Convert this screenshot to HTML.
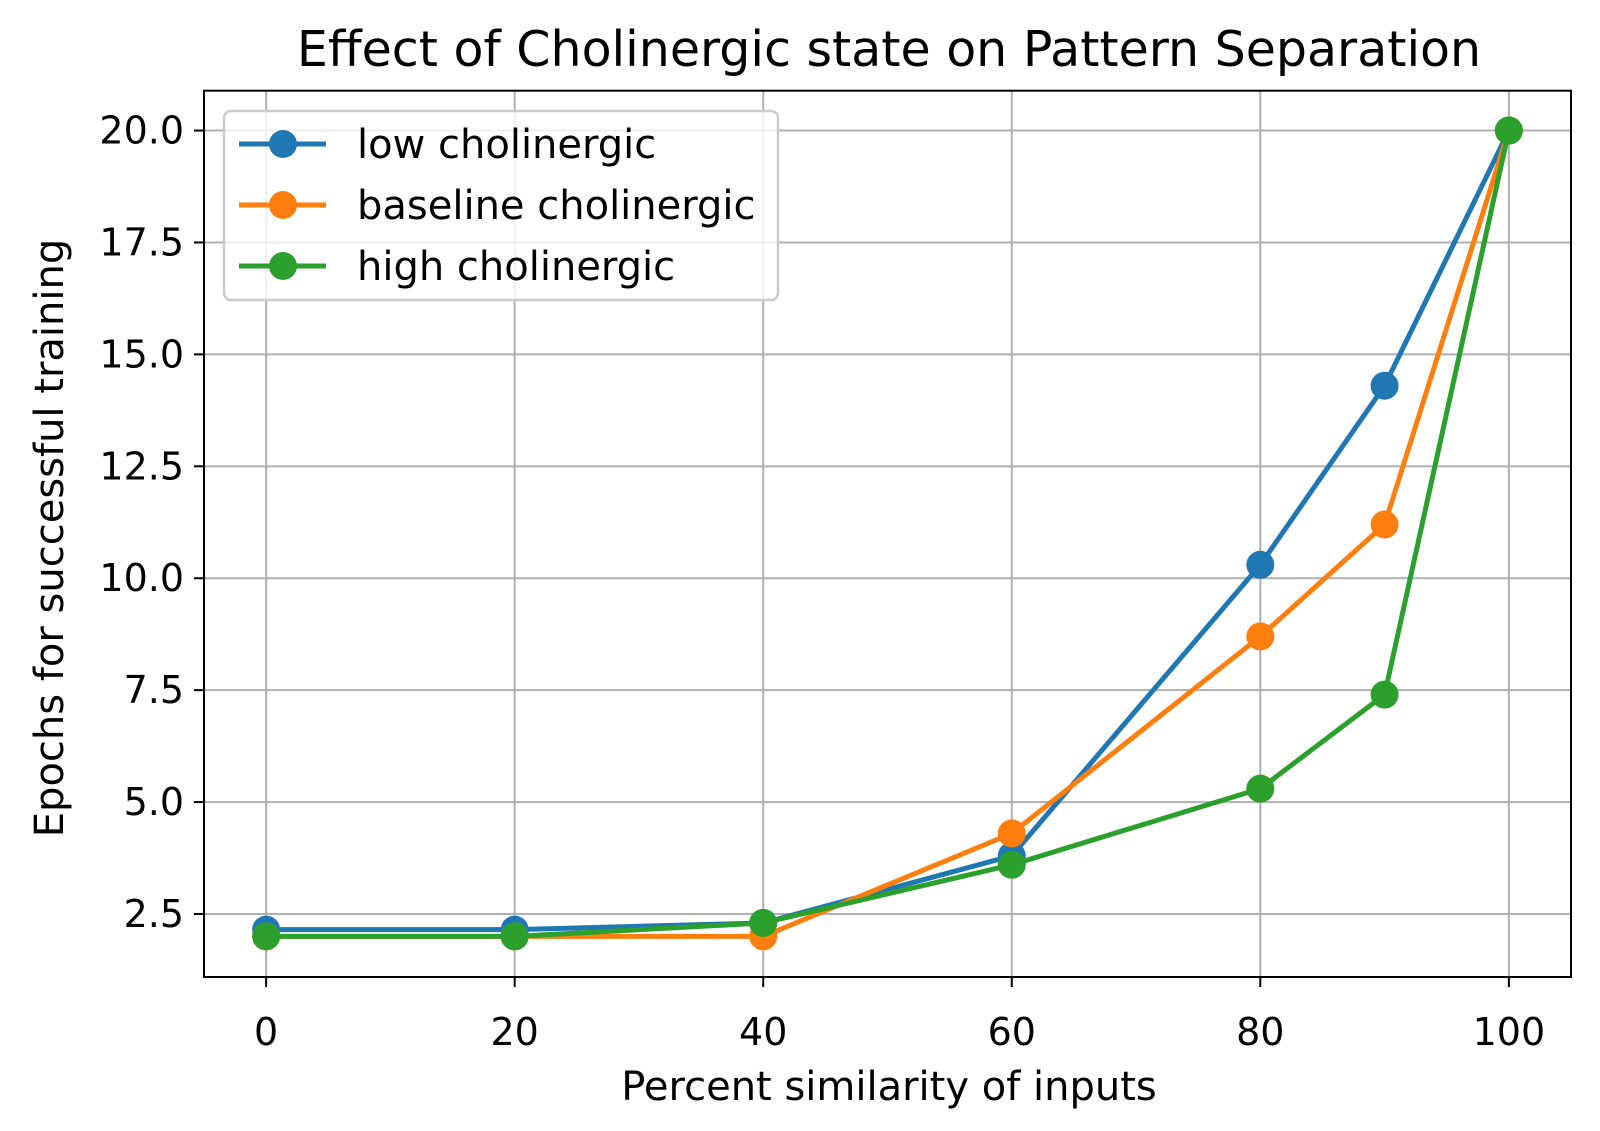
<!DOCTYPE html>
<html><head><meta charset="utf-8"><style>
body{margin:0;background:#fff;}
svg{display:block;font-family:"DejaVu Sans","Liberation Sans",sans-serif;}
</style></head><body>
<svg id="chart" width="1600" height="1131" viewBox="0 0 1600 1131">
<rect width="1600" height="1131" fill="#fff"/>
<g id="grid"></g>
<g id="series"></g>
<rect x="204" y="90.7" width="1367" height="886.3" fill="none" stroke="#000" stroke-width="2"/>
<g id="ticks"></g>
<text x="889" y="66" font-size="49" text-anchor="middle">Effect of Cholinergic state on Pattern Separation</text>
<text x="889" y="1100" font-size="40" text-anchor="middle">Percent similarity of inputs</text>
<text transform="translate(63,538) rotate(-90)" font-size="40" text-anchor="middle">Epochs for successful training</text>
<g id="legend"></g>
</svg>
<script>
const categories = [0, 20, 40, 60, 80, 90, 100];
const lowValues = [2.15, 2.15, 2.3, 3.8, 10.3, 14.3, 20];
const baselineValues = [2, 2, 2, 4.3, 8.7, 11.2, 20];
const highValues = [2, 2, 2.3, 3.6, 5.3, 7.4, 20];
const seriesNames = ["low cholinergic", "baseline cholinergic", "high cholinergic"];
const xTickLabels = ["0", "20", "40", "60", "80", "100"];
const yTickLabels = ["2.5", "5.0", "7.5", "10.0", "12.5", "15.0", "17.5", "20.0"];

const NS = "http://www.w3.org/2000/svg";
const colors = ["#1f77b4", "#ff7f0e", "#2ca02c"];
const L = 204, R = 1571, T = 90.7, B = 977;
const xmin = -5, xmax = 105, ymin = 1.093, ymax = 20.89;
function xs(v){ return L + (v - xmin) / (xmax - xmin) * (R - L); }
function ys(v){ return B - (v - ymin) / (ymax - ymin) * (B - T); }
function mk(tag, attrs, parent){ const e = document.createElementNS(NS, tag); for (const k in attrs) e.setAttribute(k, attrs[k]); parent.appendChild(e); return e; }

const grid = document.getElementById('grid');
const ticks = document.getElementById('ticks');
xTickLabels.forEach(s => {
  const x = xs(parseFloat(s));
  const g = mk('line', {x1:x, x2:x, y1:T, y2:B, stroke:'#b0b0b0', 'stroke-width':2}, grid);
  
  
  const t = mk('line', {x1:x, x2:x, y1:B, y2:B+10, stroke:'#000', 'stroke-width':2}, ticks);
  
  
  const lb = mk('text', {x:x, y:1045, 'font-size':38, 'text-anchor':'middle'}, ticks);
  lb.textContent = s;
  
  
});
yTickLabels.forEach(s => {
  const y = ys(parseFloat(s));
  const g = mk('line', {x1:L, x2:R, y1:y, y2:y, stroke:'#b0b0b0', 'stroke-width':2}, grid);
  
  
  const t = mk('line', {x1:L-10, x2:L, y1:y, y2:y, stroke:'#000', 'stroke-width':2}, ticks);
  
  
  const lb = mk('text', {x:L-20, y:y+13, 'font-size':38, 'text-anchor':'end'}, ticks);
  lb.textContent = s;
  
  
});

const series = document.getElementById('series');
[lowValues, baselineValues, highValues].forEach((vals, i) => {
  const g = mk('g', {}, series);
  
  
  const pts = categories.map((c, j) => xs(c) + ',' + ys(vals[j])).join(' ');
  const pl = mk('polyline', {points:pts, fill:'none', stroke:colors[i], 'stroke-width':5, 'stroke-linejoin':'round'}, g);
  
  
  categories.forEach((c, j) => {
    const m = mk('circle', {cx:xs(c), cy:ys(vals[j]), r:14, fill:colors[i]}, g);
    
    
  });
});

const legend = document.getElementById('legend');
const box = mk('rect', {x:224, y:111, width:554, height:189, rx:7, fill:'rgba(255,255,255,0.8)', stroke:'#cccccc', 'stroke-width':2.5}, legend);


seriesNames.forEach((n, i) => {
  const y = 144 + i * 61;
  const g = mk('g', {}, legend);
  
  
  mk('line', {x1:239, x2:326, y1:y, y2:y, stroke:colors[i], 'stroke-width':5}, g);
  mk('circle', {cx:283, cy:y, r:14, fill:colors[i]}, g);
  const t = mk('text', {x:357, y:y+14, 'font-size':40}, g);
  t.textContent = n;
  
  
});
</script>
</body></html>
